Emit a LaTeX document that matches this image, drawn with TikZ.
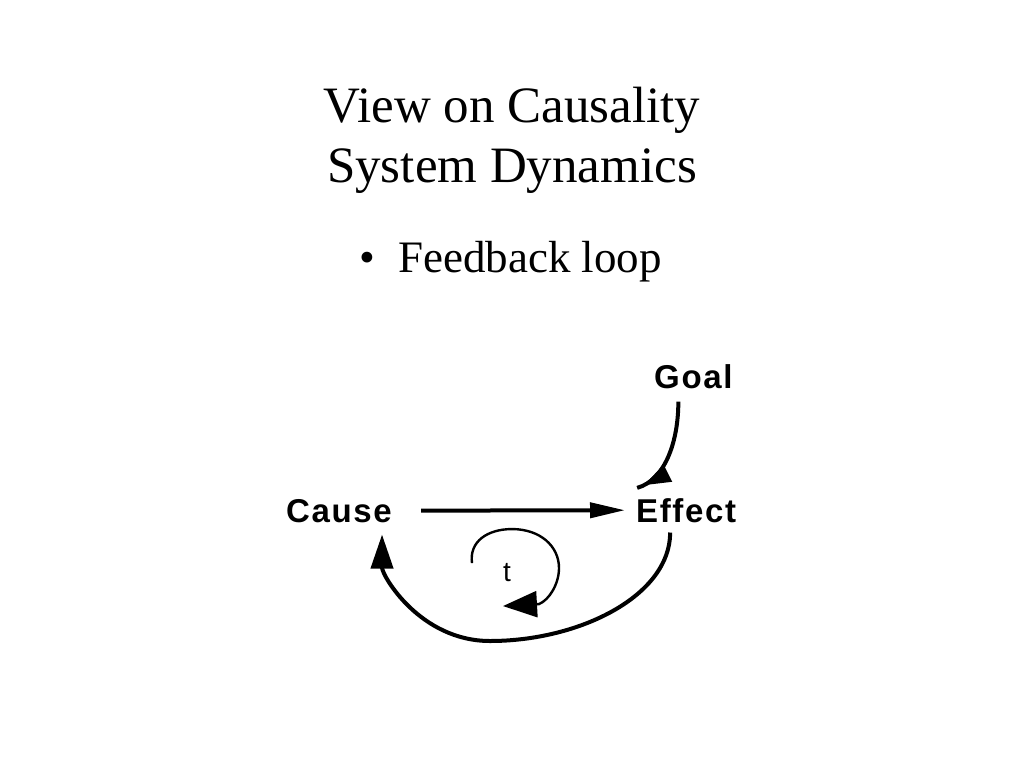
\documentclass[tikz,border=0pt]{standalone}
\usepackage{fontspec}
\setmainfont{Liberation Serif}
\setsansfont{Liberation Sans}
\usetikzlibrary{arrows.meta,decorations.markings}
\begin{document}
\begin{tikzpicture}[x=1pt,y=-1pt,
  titletext/.style={font=\fontsize{51}{60}\selectfont, inner sep=0, anchor=base},
  bullettext/.style={font=\fontsize{45}{54}\selectfont, inner sep=0, anchor=base west},
  var/.style={font=\fontsize{33}{38}\selectfont\sffamily\bfseries\addfontfeatures{LetterSpace=5}, inner sep=0, anchor=base west},
  link/.style={line width=4pt, line cap=butt},
  loopline/.style={line width=2.4pt}
]
\useasboundingbox[fill=white] (0,0) rectangle (1024,768);

\node[titletext] (title1) at (512,122) {View on Causality};
\node[titletext] (title2) at (512,182) {System Dynamics};
\node[bullettext] (bul) at (359,272) {•};
\node[bullettext] (item) at (398,272) {Feedback loop};

\node[var] (cause) at (286,522) {Cause};
\node[var] (effect) at (636,522) {Effect};
\node[var] (goal) at (654,388) {Goal};
\node[font=\fontsize{28}{30}\selectfont\sffamily, inner sep=0, anchor=base] (t) at (507,581) {t};

% Cause -> Effect
\draw[link, -{Triangle[length=35pt,width=15pt]}]
  ([xshift=29pt]cause.east) -- ([xshift=-11pt]effect.west);

% Goal -> Effect (arrowhead slightly before end)
\draw[link, postaction={decorate}, decoration={markings,
   mark=at position 0.93 with {\arrow{Triangle[length=27pt,width=18pt]}}}]
  ([xshift=-15pt,yshift=-13pt]goal.south) .. controls +(0,40) and +(28,-8) ..
  ([xshift=-49pt,yshift=10pt]effect.north);

% Effect -> Cause
\draw[link, -{Triangle[length=34pt,width=22pt]}]
  ([xshift=-16pt,yshift=-10pt]effect.south) .. controls +(0,63) and +(90,0) ..
  (490,641) .. controls +(-70,0) and +(0,41) ..
  ([xshift=43pt,yshift=-12pt]cause.south);

% delay loop around t
\draw[loopline, -{Triangle[length=34pt,width=26pt]}]
  ([xshift=-35pt,yshift=9pt]t.center) .. controls +(-3,-22) and +(-24,0) ..
  ([xshift=5pt,yshift=43pt]t.center) .. controls +(28,0) and +(0,-22) ..
  ([xshift=52pt,yshift=4pt]t.center) .. controls +(0,16) and +(10,-4) ..
  ([xshift=32pt,yshift=-32pt]t.center) -- ([xshift=-4pt,yshift=-34pt]t.center);
\end{tikzpicture}
\end{document}
